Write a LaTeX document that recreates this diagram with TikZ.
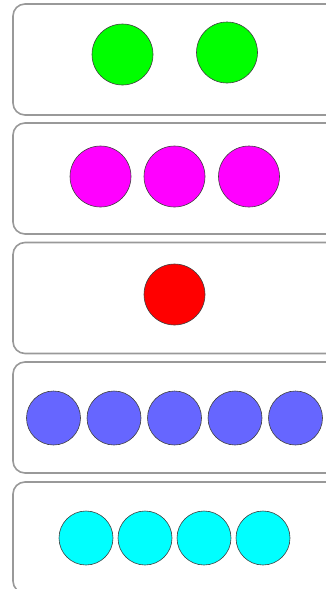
\documentclass[tikz,border=0pt]{standalone}
\usepackage{tikz}

\definecolor{panelgray}{HTML}{999999}
\definecolor{dotgreen}{HTML}{00FF00}
\definecolor{dotmagenta}{HTML}{FF00FF}
\definecolor{dotred}{HTML}{FF0000}
\definecolor{dotblue}{HTML}{6666FF}
\definecolor{dotcyan}{HTML}{00FFFF}

\begin{document}
\begin{tikzpicture}[
        x=1pt, y=-1pt,
        panel/.style={draw=panelgray, line width=1.6pt, rounded corners=12pt,
            minimum width=327pt, minimum height=111pt, inner sep=0pt},
        dot/.style={circle, draw=black!75, line width=0.6pt, inner sep=0pt},
        big dot/.style={dot, minimum size=61pt},
        small dot/.style={dot, minimum size=54pt}
    ]

        \useasboundingbox (0,0) rectangle (326,589);
        \clip (0,0) rectangle (326,589);

        % panels
        \node[panel] (p1) at (176.5, 59.5)  {};
        \node[panel] (p2) at (176.5, 178.5) {};
        \node[panel] (p3) at (176.5, 298)   {};
        \node[panel] (p4) at (176.5, 417.5) {};
        \node[panel] (p5) at (176.5, 537.5) {};

        % two green
        \node[big dot, fill=dotgreen] (g1) at (122.5, 54.5) {};
        \node[big dot, fill=dotgreen] (g2) at (227, 52.5)   {};

        % three magenta
        \node[big dot, fill=dotmagenta] (m1) at (100.5, 176.5) {};
        \node[big dot, fill=dotmagenta] (m2) at (174.5, 176.5) {};
        \node[big dot, fill=dotmagenta] (m3) at (249, 176.5)   {};

        % one red
        \node[big dot, fill=dotred] (r1) at (174.5, 294.5) {};

        % five blue
        \node[small dot, fill=dotblue] (b1) at (53.5, 418)  {};
        \node[small dot, fill=dotblue] (b2) at (114, 418)   {};
        \node[small dot, fill=dotblue] (b3) at (174.5, 418) {};
        \node[small dot, fill=dotblue] (b4) at (235, 418)   {};
        \node[small dot, fill=dotblue] (b5) at (295.5, 418) {};

        % four cyan
        \node[small dot, fill=dotcyan] (c1) at (86, 538)  {};
        \node[small dot, fill=dotcyan] (c2) at (145, 538) {};
        \node[small dot, fill=dotcyan] (c3) at (204, 538) {};
        \node[small dot, fill=dotcyan] (c4) at (263, 538) {};
    \end{tikzpicture}
\end{document}
